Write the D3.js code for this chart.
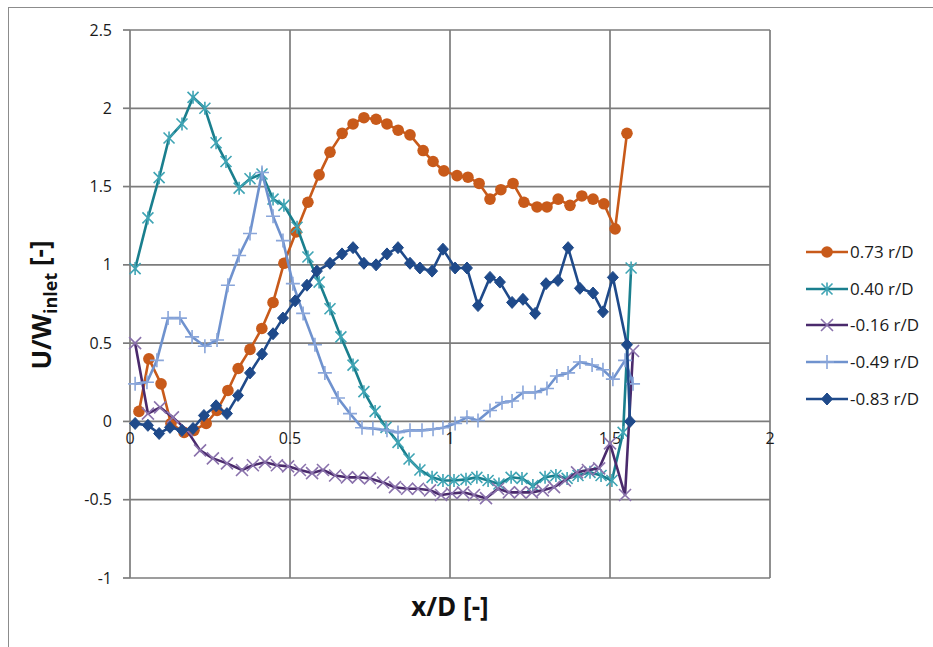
<!DOCTYPE html>
<html><head><meta charset="utf-8">
<script src="https://cdn.jsdelivr.net/npm/d3@7"></script>
<style>body{margin:0;background:#fff}text{font-family:"Open Sans",sans-serif}</style>
</head><body><svg id="c" width="933" height="647"></svg>
<script>
const xTicks=[0,0.5,1,1.5,2];
const xTickLabels=["0","0.5","1","1.5","2"];
const yTicks=[-1,-0.5,0,0.5,1,1.5,2,2.5];
const yTickLabels=["-1","-0.5","0","0.5","1","1.5","2","2.5"];
const seriesNames=["0.73 r/D","0.40 r/D","-0.16 r/D","-0.49 r/D","-0.83 r/D"];

const x073=[0.028,0.059,0.097,0.128,0.169,0.2,0.238,0.272,0.306,0.338,0.375,0.412,0.447,0.481,0.519,0.556,0.591,0.625,0.663,0.697,0.731,0.769,0.803,0.838,0.875,0.916,0.947,0.981,1.022,1.056,1.091,1.125,1.159,1.197,1.231,1.272,1.303,1.338,1.375,1.412,1.447,1.481,1.516,1.553];
const y073=[0.064,0.40,0.24,-0.013,-0.07,-0.057,-0.013,0.07,0.198,0.338,0.46,0.594,0.76,1.01,1.21,1.40,1.575,1.72,1.84,1.90,1.94,1.93,1.90,1.86,1.83,1.73,1.66,1.60,1.57,1.56,1.52,1.42,1.48,1.52,1.40,1.37,1.37,1.42,1.38,1.44,1.42,1.39,1.23,1.84];

const x040=[0.016,0.056,0.091,0.122,0.1625,0.197,0.234,0.269,0.3,0.341,0.375,0.4125,0.447,0.481,0.522,0.556,0.591,0.625,0.659,0.697,0.731,0.766,0.8,0.8375,0.872,0.906,0.944,0.978,1.0125,1.05,1.084,1.119,1.153,1.191,1.225,1.259,1.297,1.331,1.366,1.4,1.4375,1.472,1.506,1.541,1.566];
const y040=[0.976,1.30,1.557,1.81,1.90,2.07,2.0,1.78,1.66,1.49,1.55,1.58,1.42,1.38,1.24,1.05,0.89,0.72,0.54,0.36,0.19,0.064,-0.038,-0.134,-0.24,-0.31,-0.357,-0.377,-0.377,-0.37,-0.357,-0.377,-0.40,-0.357,-0.364,-0.41,-0.357,-0.345,-0.364,-0.345,-0.325,-0.345,-0.377,-0.07,0.98];

const xm016=[0.016,0.056,0.094,0.134,0.178,0.219,0.259,0.303,0.35,0.384,0.422,0.459,0.494,0.531,0.569,0.603,0.641,0.678,0.7125,0.75,0.791,0.828,0.866,0.9,0.9375,0.972,1.006,1.041,1.075,1.1125,1.15,1.184,1.219,1.256,1.29,1.325,1.359,1.397,1.431,1.466,1.5,1.547,1.572];
const ym016=[0.50,0.05,0.09,0.026,-0.057,-0.185,-0.236,-0.268,-0.31,-0.28,-0.26,-0.28,-0.287,-0.31,-0.33,-0.31,-0.345,-0.357,-0.357,-0.364,-0.39,-0.42,-0.43,-0.43,-0.44,-0.47,-0.46,-0.453,-0.47,-0.49,-0.43,-0.453,-0.453,-0.453,-0.44,-0.42,-0.377,-0.325,-0.31,-0.30,-0.14,-0.47,0.45];

const xm049=[0.016,0.053,0.084,0.119,0.156,0.194,0.234,0.272,0.306,0.341,0.375,0.4125,0.447,0.478,0.509,0.541,0.578,0.609,0.65,0.6875,0.725,0.759,0.803,0.8375,0.875,0.9125,0.947,0.978,1.016,1.053,1.0875,1.125,1.1625,1.194,1.228,1.266,1.303,1.334,1.369,1.406,1.444,1.478,1.509,1.547,1.572];
const ym049=[0.24,0.25,0.39,0.66,0.66,0.54,0.48,0.52,0.87,1.06,1.20,1.59,1.31,1.155,0.88,0.69,0.49,0.31,0.15,0.05,-0.04,-0.045,-0.057,-0.07,-0.057,-0.057,-0.05,-0.04,-0.013,0.026,0.006,0.07,0.12,0.13,0.185,0.185,0.21,0.29,0.31,0.38,0.36,0.33,0.27,0.39,0.24];

const xm083=[0.016,0.056,0.091,0.125,0.1625,0.197,0.231,0.269,0.303,0.3375,0.375,0.4125,0.447,0.478,0.516,0.553,0.584,0.625,0.6625,0.697,0.731,0.769,0.803,0.8375,0.875,0.906,0.944,0.978,1.016,1.053,1.0875,1.125,1.156,1.194,1.228,1.266,1.3,1.3375,1.369,1.406,1.447,1.478,1.509,1.553,1.5625];
const ym083=[-0.013,-0.025,-0.077,-0.038,-0.057,-0.045,0.038,0.10,0.05,0.166,0.31,0.43,0.56,0.66,0.77,0.87,0.96,1.01,1.07,1.11,1.01,1.0,1.07,1.11,1.01,0.98,0.96,1.10,0.98,0.98,0.74,0.92,0.89,0.76,0.78,0.69,0.88,0.90,1.11,0.85,0.82,0.70,0.92,0.49,0.0];

const seriesX=[x073,x040,xm016,xm049,xm083];
const seriesY=[y073,y040,ym016,ym049,ym083];
const lineColors=["#C85A1A","#1A7F8E","#4A2A6C","#6F92CE","#1F4A8A"];
const markColors=["#C85A1A","#3FA4B4","#8A72AC","#8AA6DA","#1F4A8A"];
const markTypes=["circle","asterisk","times","plus","diamond"];

const svg=d3.select("#c");
const L=130,R=770,T=30,B=578;
const x=d3.scaleLinear().domain([0,2]).range([L,R]);
const y=d3.scaleLinear().domain([-1,2.5]).range([B,T]);

svg.append("rect").attr("x",8.5).attr("y",7.5).attr("width",940).attr("height",660)
  .attr("fill","none").attr("stroke","#8c8c8c").attr("stroke-width",1);

const g=svg.append("g");
const gridC="#7c7c7c", gridW=1.7;
g.selectAll(".hg").data(yTicks).join("line").attr("x1",L).attr("x2",R)
  .attr("y1",d=>y(d)).attr("y2",d=>y(d)).attr("stroke",gridC).attr("stroke-width",gridW);
g.selectAll(".vg").data(xTicks).join("line").attr("y1",T).attr("y2",B)
  .attr("x1",d=>x(d)).attr("x2",d=>x(d)).attr("stroke",gridC).attr("stroke-width",gridW);
g.selectAll(".yt").data(yTicks).join("line").attr("x1",L-7).attr("x2",L)
  .attr("y1",d=>y(d)).attr("y2",d=>y(d)).attr("stroke",gridC).attr("stroke-width",gridW);
g.selectAll(".yl").data(yTicks).join("text").attr("x",L-18).attr("y",d=>y(d))
  .attr("dy","0.35em").attr("text-anchor","end").attr("font-size",16).attr("fill","#1a1a1a")
  .text((d,i)=>yTickLabels[i]);
g.selectAll(".xl").data(xTicks).join("text").attr("x",d=>x(d)).attr("y",y(0)+17)
  .attr("dy","0.35em").attr("text-anchor","middle").attr("font-size",16).attr("fill","#1a1a1a")
  .text((d,i)=>xTickLabels[i]);

function markPath(t){
  if(t==="asterisk")return "M0,-6.5V6.5M-5.5,-5.5L5.5,5.5M-5.5,5.5L5.5,-5.5";
  if(t==="times")return "M-6,-6L6,6M-6,6L6,-6";
  if(t==="plus")return "M-7,0H7M0,-7V7";
  if(t==="diamond")return "M0,-6L5.5,0L0,6L-5.5,0Z";
  return null;
}
function drawMarker(sel,t,c){
  if(t==="circle"){sel.append("circle").attr("r",5.8).attr("fill",c);}
  else{
    const p=sel.append("path").attr("d",markPath(t));
    if(t==="diamond")p.attr("fill",c).attr("stroke",c);
    else p.attr("fill","none").attr("stroke",c).attr("stroke-width",1.6);
  }
}
const line=d3.line().x(d=>x(d[0])).y(d=>y(d[1]));
seriesX.forEach((xs,k)=>{
  const pts=xs.map((v,i)=>[v,seriesY[k][i]]);
  const sg=g.append("g");
  sg.append("path").attr("d",line(pts)).attr("fill","none").attr("stroke",lineColors[k])
    .attr("stroke-width",2.6).attr("stroke-linejoin","round");
  pts.forEach(p=>{
    const m=sg.append("g").attr("transform",`translate(${x(p[0])},${y(p[1])})`);
    drawMarker(m,markTypes[k],markColors[k]);
  });
});

const legY=[252,289,325,362,399];
seriesNames.forEach((n,k)=>{
  const lg=svg.append("g").attr("transform",`translate(0,${legY[k]})`);
  lg.append("line").attr("x1",806).attr("x2",848).attr("stroke",lineColors[k]).attr("stroke-width",2.6);
  const m=lg.append("g").attr("transform","translate(827,0)");
  drawMarker(m,markTypes[k],markColors[k]);
  lg.append("text").attr("x",850).attr("dy","0.35em").attr("font-size",17).attr("fill","#1a1a1a").text(n);
});

svg.append("text").attr("x",(L+R)/2).attr("y",607).attr("dy","0.35em").attr("text-anchor","middle")
  .attr("font-size",26).attr("font-weight","bold").attr("fill","#111").text("x/D [-]");
const yt=svg.append("text").attr("transform","translate(42,305) rotate(-90)").attr("text-anchor","middle")
  .attr("dy","0.35em").attr("font-size",26).attr("font-weight","bold").attr("fill","#111");
yt.append("tspan").text("U/W");
yt.append("tspan").attr("font-size",18).attr("dy","0.3em").text("inlet");
yt.append("tspan").attr("dy","-0.3em").text(" [-]");
</script></body></html>
